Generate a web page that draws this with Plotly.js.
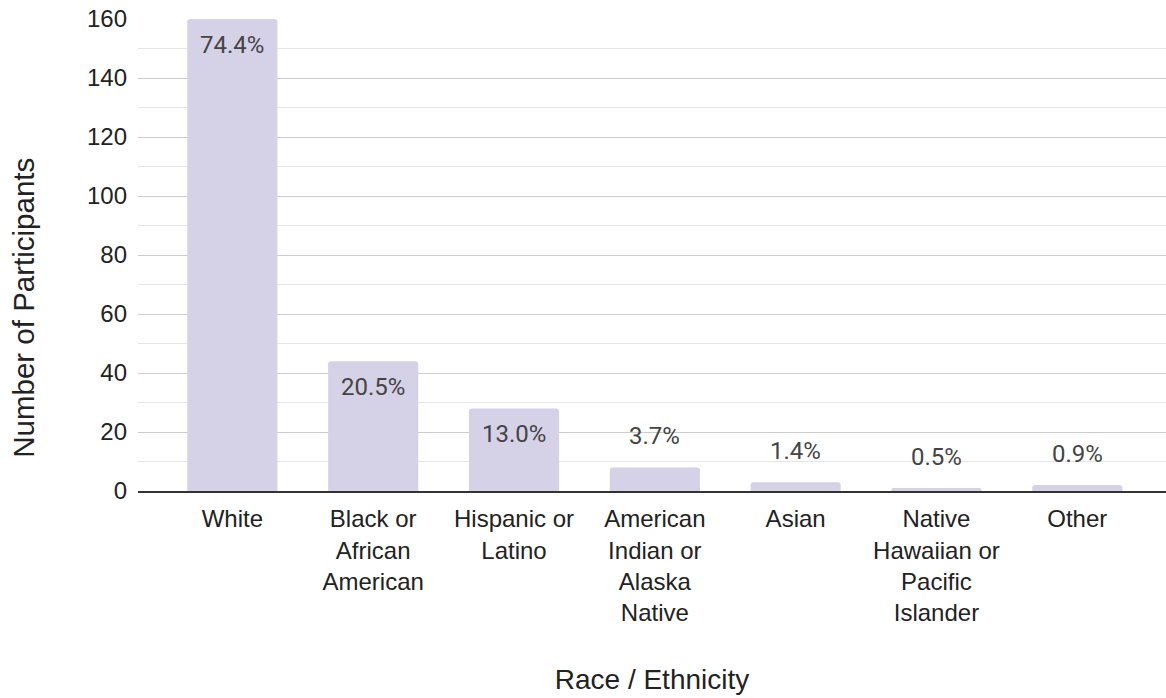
<!DOCTYPE html>
<html>
<head>
<meta charset="utf-8">
<script src="https://cdn.plot.ly/plotly-3.0.1.min.js"></script>
<style>
  html, body { margin: 0; padding: 0; background: #fff; }
  #chart { width: 1166px; height: 698px; }
</style>
</head>
<body>
<div id="chart"></div>
<script>
// Participants by race / ethnicity (multi-select, so shares sum above 100%)
const categories = [
  "White",
  "Black or African American",
  "Hispanic or Latino",
  "American Indian or Alaska Native",
  "Asian",
  "Native Hawaiian or Pacific Islander",
  "Other"
];
const tickLabels = [
  "White",
  "Black or<br>African<br>American",
  "Hispanic or<br>Latino",
  "American<br>Indian or<br>Alaska<br>Native",
  "Asian",
  "Native<br>Hawaiian or<br>Pacific<br>Islander",
  "Other"
];
const participants = [160, 44, 28, 8, 3, 1, 2];
const percentShare = [74.4, 20.5, 13.0, 3.7, 1.4, 0.5, 0.9];

const barColor = "#d5d1e7";
const sansFamily = "'Liberation Sans', Arial, sans-serif";
const labelFont = { family: "Roboto, sans-serif", size: 24, color: "#444444" };
const axisFont = { family: sansFamily, size: 24, color: "#222222" };

// Percentage labels: inside the bar top for tall bars, above the bar otherwise
const labelAnnotations = categories.map((c, i) => {
  const inside = participants[i] > 10;
  return {
    x: c,
    y: participants[i],
    xref: "x",
    yref: "y",
    text: percentShare[i].toFixed(1) + "%",
    showarrow: false,
    font: labelFont,
    yanchor: "middle",
    yshift: inside ? -26 : 31
  };
});

const trace = {
  type: "bar",
  x: categories,
  y: participants,
  width: 0.64,
  marker: { color: barColor, cornerradius: 3, line: { width: 0 } },
  hoverinfo: "x+y"
};

const layout = {
  width: 1166,
  height: 698,
  margin: { l: 138, r: 0, t: 19, b: 206.5 },
  paper_bgcolor: "#ffffff",
  plot_bgcolor: "#ffffff",
  showlegend: false,
  xaxis: {
    type: "category",
    range: [-0.67, 6.63],
    tickvals: categories,
    ticktext: tickLabels,
    tickfont: axisFont,
    ticks: "",
    showgrid: false,
    showline: true,
    linecolor: "#333333",
    linewidth: 1.5,
    tickangle: 0,
    ticklabelstandoff: 6,
    title: {
      text: "Race / Ethnicity",
      font: { family: sansFamily, size: 28, color: "#222222" },
      standoff: 44
    },
    fixedrange: true
  },
  yaxis: {
    range: [0, 160],
    dtick: 20,
    tick0: 0,
    tickfont: axisFont,
    ticks: "",
    showgrid: true,
    gridcolor: "#cccccc",
    gridwidth: 1,
    zeroline: false,
    showline: false,
    ticklabelstandoff: 10,
    minor: { dtick: 10, showgrid: true, gridcolor: "#e6e6e6", gridwidth: 1 },
    fixedrange: true
  },
  annotations: labelAnnotations.concat([
    {
      xref: "paper",
      yref: "paper",
      x: -0.111,
      y: 0.388,
      text: "Number of Participants",
      textangle: -90,
      showarrow: false,
      xanchor: "center",
      yanchor: "middle",
      font: { family: sansFamily, size: 29.5, color: "#222222" }
    }
  ])
};

Plotly.newPlot("chart", [trace], layout, { displayModeBar: false, staticPlot: true });
</script>
</body>
</html>
